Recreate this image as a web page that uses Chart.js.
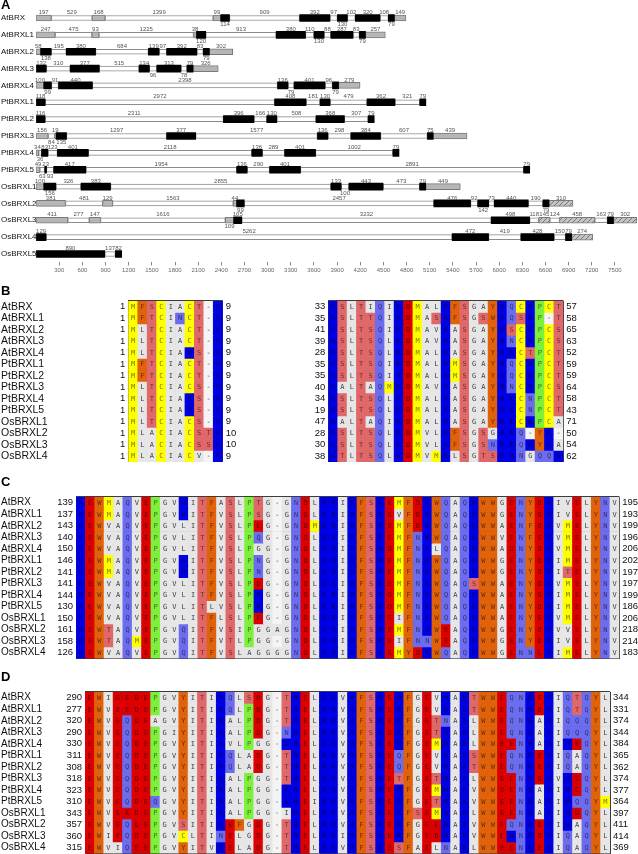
<!DOCTYPE html>
<html>
<head>
<meta charset="utf-8">
<script src="https://cdn.jsdelivr.net/npm/chart.js@4.4.1/dist/chart.umd.min.js"></script>
<style>
  body { margin: 0; background: #fff; width: 638px; height: 854px; overflow: hidden; position: relative; }
  canvas { position: absolute; left: 0; }
</style>
</head>
<body>
<canvas id="geneChart" width="638" height="278" style="top:0px"></canvas>
<canvas id="bLeft" width="638" height="190" style="top:280px"></canvas>
<canvas id="bRight" width="638" height="190" style="top:280px"></canvas>
<canvas id="cChart" width="638" height="190" style="top:470px"></canvas>
<canvas id="dChart" width="638" height="194" style="top:660px"></canvas>
<script>
// ==========================================
// 1. PANEL A - gene structures
// ==========================================
const geneNames = ['AtBRX', 'AtBRXL1', 'AtBRXL2', 'AtBRXL3', 'AtBRXL4', 'PtBRXL1', 'PtBRXL2', 'PtBRXL3',
    'PtBRXL4', 'PtBRXL5', 'OsBRXL1', 'OsBRXL2', 'OsBRXL3', 'OsBRXL4', 'OsBRXL5'];

// E = exon, U = UTR, H = hatched UTR, I = intron ; lower case = number written under the box
const segTypes = [
    'UIUIUeIEIeIEIeU',
    'UIUIUeIEIeIEIeU',
    'UeIEIEIEIeU',
    'EIEIEiEiEU',
    'UeIEIEiEIeU',
    'EIEIEIEIE',
    'EIEIEIEIE',
    'UiUeIEIEIEIEU',
    'UiEIEIEIEIE',
    'UiEiEIEIEIE',
    'UeIEIEiEIEU',
    'UIUIUeIEIeIEIeH',
    'UIUIuEIEIHIHIEH',
    'EIEIEIEH',
    'EIE'
];
const segLengths = [
    [197, 529, 168, 1399, 99, 114, 909, 392, 97, 130, 102, 320, 108, 79, 149],
    [247, 475, 93, 1225, 38, 120, 913, 380, 110, 130, 88, 287, 83, 79, 257],
    [58, 138, 195, 380, 684, 139, 97, 392, 83, 79, 302],
    [132, 310, 377, 515, 134, 96, 313, 78, 79, 326],
    [100, 99, 91, 440, 2398, 136, 79, 401, 96, 79, 279],
    [118, 2972, 408, 181, 130, 479, 362, 321, 79],
    [116, 2311, 396, 166, 130, 508, 368, 307, 79],
    [156, 84, 19, 135, 1297, 377, 1577, 136, 298, 384, 607, 75, 439],
    [34, 36, 83, 123, 401, 2118, 136, 289, 401, 1002, 79],
    [49, 63, 23, 93, 417, 1954, 136, 290, 401, 2891, 79],
    [100, 156, 326, 383, 2855, 133, 100, 443, 473, 79, 449],
    [381, 481, 129, 1563, 44, 99, 2457, 476, 92, 142, 73, 440, 190, 79, 310],
    [411, 277, 147, 1616, 109, 105, 3232, 498, 118, 145, 124, 458, 163, 79, 302],
    [129, 5262, 472, 419, 428, 150, 79, 274],
    [890, 137, 82]
];
const axisTicks = [300, 600, 900, 1200, 1500, 1800, 2100, 2400, 2700, 3000, 3300, 3600, 3900, 4200,
    4500, 4800, 5100, 5400, 5700, 6000, 6300, 6600, 6900, 7200, 7500];

// ==========================================
// 2. PANELS B, C, D - alignments
// ==========================================
const alignNames = ['AtBRX', 'AtBRXL1', 'AtBRXL2', 'AtBRXL3', 'AtBRXL4', 'PtBRXL1', 'PtBRXL2', 'PtBRXL3',
    'PtBRXL4', 'PtBRXL5', 'OsBRXL1', 'OsBRXL2', 'OsBRXL3', 'OsBRXL4'];

const bLeftStart = [1, 1, 1, 1, 1, 1, 1, 1, 1, 1, 1, 1, 1, 1];
const bLeftEnd = [9, 9, 9, 9, 9, 9, 9, 9, 9, 9, 9, 10, 10, 9];
const bLeftSeq = [
    'MFSCIACT-K', 'MFTCINCT-K', 'MLTCIACT-K', 'MLTCIACT-K', 'MLTCIARS-K', 'MFTCIACT-K', 'MFTCIACT-K',
    'MLTCIACS-K', 'MLTCIARS-K', 'MLTCIARS-K', 'MLTCIACS-K', 'MLACIACSTK', 'MLACIACSSK', 'MLACIACV-K'
];

const bRightStart = [33, 35, 41, 39, 28, 35, 35, 40, 34, 19, 47, 28, 30, 38];
const bRightEnd = [57, 58, 65, 63, 52, 59, 59, 64, 58, 43, 71, 50, 54, 62];
const bRightSeq = [
    'KSLTIQIKDMALKFSGAYKQCKPCT',
    'KSLTTQIKDMASKFSGSWKQSKP-T',
    'KSLTSQIKDMAVKASGAYKSCKPCS',
    'KSLTSQLKDMAVKASGAYKNCKPCS',
    'KSLTSQLKDMALKASGAYRKCTPCT',
    'KSLTSQIKDMALKMSGAYKQCKPCT',
    'KSLTSQIKDMALKMSGAYKQCKPCT',
    'KALTAQMKDMAVKASGAYRNCKPCS',
    'KSLTSQLKDMALKASGAYRKCNPCT',
    'KSLTSQLKDMALKASGAYRKCNPCT',
    'KALTAQIKDMALKASGAYRKCKPCA',
    'KSLTSQLKDMVLKFSGSGRKQ-YK-',
    'KSLTSQLKDMVLKFSGSNKKQHYKA',
    'KTLTSQLKDMVMKLSGTSRHNGQQR'
];

const cStart = [139, 137, 143, 140, 150, 146, 141, 141, 144, 130, 150, 161, 158, 126];
const cEnd = [195, 193, 199, 196, 206, 202, 197, 197, 199, 186, 206, 218, 214, 183];
const cSeq = [
    'KEWMAQVEPGVHITFASLPTG-GNDLK' + 'RIRFSREMFDKWQAQRWWGENYDKIVELYNV',
    'KEWMAQVEPGVHITFVSLPSG-GNDLK' + 'RIRFSREVFDKWQAQRWWGENYDRIVELYNV',
    'KEWVAQVEPGVLITFVSLPEG-GNDMK' + 'RIRFSREMFDKWQAQKWWAENFDKVMELYNV',
    'KEWVAQVEPGVLITFVSLPQG-GNDLK' + 'RIRFSREMFNKWQAQKWWVENFEKVMELYNV',
    'KEWVAQVEPGVLITFVSLPGG-GNDLK' + 'RIRFSRDMFNKLQAQRWWADNYDKVMELYNV',
    'KEWMAQVEPGVHITFVSLPNG-GNDLK' + 'RIRFSREMFNKWQAQRWWGENYDRIMELYNV',
    'KEWMAQVEPGVHITFVSLPNG-GNDLK' + 'RIRFSREMFNKWQAQRWWGENYDRITELYNV',
    'KEWVAQVEPGVLITFVSLPDG-GNDLK' + 'RIRFSREMFNKWQAQSWWAENYDKVMELYNV',
    'KEWVAQVEPGVLITFVSLPRG-GNDLK' + 'RIRFSRDMFNKWQAQRWWAENYDRIMELYNV',
    'KEWVAQVEPGVLITLVSLPRG-GNDLK' + 'RIRFSRDMFNKWQAQRWWAENYDRIMELYNV',
    'KEWVAQVEPGVLITFLSLPEG-GNDLK' + 'RIRFSREIFNKWQAQRWWAENYEKVMELYNV',
    'REWTAQVEPGVQITFVSIPGGAGNDLK' + 'RIRFSREMFNKWEAQRWWGENYDRVVELYNV',
    'REWTAQMEPGVQITFVTLPGG-GNDLK' + 'RIRFSREIFNNWEAQRWWGENYDRIVELYNV',
    'REWVAQVEPGVQITFVSLAGGGGNDLK' + 'RIRFSREMYDKWQAQKWWGENNERIMELYNV'
];

const dStart = [290, 277, 320, 290, 330, 311, 308, 318, 323, 310, 343, 357, 360, 315];
const dEnd = [344, 331, 374, 344, 384, 365, 362, 374, 377, 364, 397, 411, 414, 369];
const dSeq = [
    'EWIEEDEPGVYITIRQLSDG-TRELR' + 'RVRFSRERFGEVHAKTWWEQNRERIQTQYL',
    'EWVEEDEPGVYITIRQLPDG-TRELR' + 'RVRFSRERFGEVHAKTWWEQNRDRIQTQYL',
    'EWVEQDEAGVYITIRALPDG-TRELR' + 'RVRFSREKFGETNARLWWEQNRARIQQQYL',
    'EWVEQDEPGIYITIRALPDG-NRELR' + 'RVRFSRDKFGETHARLWWEQNRARIQQQYL',
    'EWVEQDEPGVYITIKVLPGG-KRELR' + 'RVRFSRERFGEMHARLWWEENRARIHEQYL',
    'EWVEQDEPGVYITIRQLADG-TRELR' + 'RVRFSREQFGEVHAKSWWEQNRERIQAQYL',
    'EWVEQDEPGVYITIRQLADG-TRELR' + 'RVRFSREQFGEVHAKTWWEQNRERIQAQYL',
    'EWVEQDEPGVYITIRALPGG-TRELR' + 'RVRFSRETFGETRARLWWEENRDRVHEQYL',
    'EWVEQDEPGVYITIRALPGG-KRELR' + 'RVRFSRERFGEMHARVWWEENRARIHEQYL',
    'EWVEQDEQGVYITIRALPGG-KREIR' + 'RVRFSRERFGETHAKVWWEENRARIHQQYM',
    'EWVEEDEPGVYITIRALPGG-IRELR' + 'RVRFSREKFSEMHARLWWEENRARIHDQYL',
    'EWVEQDEPGVSITIREFGDG-TRELR' + 'RVRFSRERFGEERAKVWWEQNRDRIHAQYL',
    'EWIEQDEPGVCLTINELGDG-TRELR' + 'RIRFSHERFGEDRAKVWWEHNRDRIQAQYL',
    'EWVIQDEPGVYITVRELADG-TRELR' + 'RVRFSRESFAELNAKLWWEENKERIQAQYL'
];

// residue colours
const residueColors = {
    K: '#0000e4', R: '#0000e4', H: '#0000e4',
    D: '#dc0000', E: '#dc0000',
    F: '#e0620a', W: '#e0620a', Y: '#e0620a',
    M: '#ffff00', C: '#ffff00',
    P: '#7ef03c',
    S: '#e06868', T: '#e06868',
    N: '#6c6cf0', Q: '#6c6cf0'
};
const plainColor = '#e6e6e6';
const gapColor = '#f4f4f4';
const labelFont = '"Liberation Sans", Arial, Helvetica, sans-serif';

// ==========================================
// 3. PANEL A CHART
// ==========================================
function hatchPattern() {
    const c = document.createElement('canvas');
    c.width = 5; c.height = 5;
    const g = c.getContext('2d');
    g.fillStyle = '#c4c4c4';
    g.fillRect(0, 0, 5, 5);
    g.strokeStyle = '#777';
    g.lineWidth = 1;
    g.beginPath();
    g.moveTo(0, 5); g.lineTo(5, 0);
    g.stroke();
    return g.createPattern(c, 'repeat');
}

const segData = { E: [], U: [], H: [], I: [] };
geneNames.forEach((name, g) => {
    let pos = 0;
    segLengths[g].forEach((len, s) => {
        const t = segTypes[g][s].toUpperCase();
        segData[t].push({ x: [pos, pos + len], y: name });
        pos += len;
    });
});

const geneLabels = {
    id: 'geneLabels',
    afterDatasetsDraw(chart) {
        const { ctx, scales: { x, y } } = chart;
        ctx.save();
        ctx.textBaseline = 'middle';
        ctx.textAlign = 'center';
        ctx.font = '6px ' + labelFont;
        ctx.fillStyle = '#555';
        geneNames.forEach((name, g) => {
            const yc = y.getPixelForValue(g);
            let pos = 0;
            segLengths[g].forEach((len, s) => {
                const t = segTypes[g][s];
                const below = t !== t.toUpperCase();
                ctx.fillText(String(len), x.getPixelForValue(pos + len / 2), below ? yc + 6.5 : yc - 5.5);
                pos += len;
            });
        });
        ctx.textAlign = 'left';
        ctx.font = '8px ' + labelFont;
        ctx.fillStyle = '#111';
        geneNames.forEach((name, g) => ctx.fillText(name, 1, y.getPixelForValue(g)));
        ctx.textBaseline = 'alphabetic';
        ctx.font = 'bold 13px ' + labelFont;
        ctx.fillStyle = '#000';
        ctx.fillText('A', 1, 9);
        ctx.restore();
    }
};

new Chart(document.getElementById('geneChart'), {
    type: 'bar',
    data: {
        labels: geneNames,
        datasets: [
            { data: segData.E, backgroundColor: '#000', borderWidth: 0, barThickness: 7 },
            { data: segData.U, backgroundColor: '#b6b6b6', borderColor: '#7a7a7a', borderWidth: 1, borderSkipped: false, barThickness: 6 },
            { data: segData.H, backgroundColor: hatchPattern(), borderColor: '#7a7a7a', borderWidth: 1, borderSkipped: false, barThickness: 6 },
            { data: segData.I, backgroundColor: '#fff', borderColor: '#8c8c8c', borderWidth: 1, borderSkipped: false, barThickness: 5 }
        ]
    },
    options: {
        indexAxis: 'y',
        responsive: false,
        animation: false,
        events: [],
        layout: { padding: { left: 36.1, right: 0.7, top: 9.57, bottom: 1.57 } },
        datasets: { bar: { grouped: false } },
        plugins: { legend: { display: false }, tooltip: { enabled: false } },
        scales: {
            x: {
                type: 'linear', min: 0, max: 7790,
                afterBuildTicks: s => { s.ticks = axisTicks.map(v => ({ value: v })); },
                afterFit: s => { s.height = 14; },
                border: { display: false },
                grid: { drawOnChartArea: false, drawTicks: true, tickLength: 3, color: '#888' },
                ticks: {
                    autoSkip: false, maxRotation: 0, padding: 1, color: '#666',
                    font: { size: 6, family: labelFont },
                    callback: v => String(v)
                }
            },
            y: { display: false }
        }
    },
    plugins: [geneLabels]
});

// ==========================================
// 4. ALIGNMENT CHARTS
// ==========================================
const residueLetters = {
    id: 'residueLetters',
    afterDatasetsDraw(chart) {
        const ctx = chart.ctx;
        ctx.save();
        ctx.font = '7px "DejaVu Sans Mono", monospace';
        ctx.textAlign = 'center';
        ctx.textBaseline = 'middle';
        chart.data.datasets.forEach((ds, r) => {
            chart.getDatasetMeta(r).data.forEach((bar, c) => {
                const ch = ds.seq[c];
                ctx.fillStyle = residueColors[ch] ? 'rgba(0,0,0,0.55)' : '#404040';
                ctx.fillText(ch, bar.x, (bar.y + bar.base) / 2 + 0.5);
            });
        });
        ctx.restore();
    }
};

function rowLabels(cfg) {
    return {
        id: 'rowLabels',
        afterDraw(chart) {
            const { ctx, chartArea, scales: { y } } = chart;
            ctx.save();
            ctx.textBaseline = 'middle';
            cfg.start.forEach((v, r) => {
                const yc = y.getPixelForValue(r + 0.5);
                if (cfg.names) {
                    ctx.textAlign = 'left';
                    ctx.font = cfg.nameSize + 'px ' + labelFont;
                    ctx.fillStyle = '#111';
                    ctx.fillText(alignNames[r], 1, yc);
                }
                ctx.font = '9.5px ' + labelFont;
                ctx.fillStyle = '#111';
                ctx.textAlign = 'right';
                ctx.fillText(String(v), chartArea.left - 3, yc);
                ctx.textAlign = 'left';
                ctx.fillText(String(cfg.end[r]), chartArea.right + 3, yc);
            });
            if (cfg.letter) {
                ctx.textBaseline = 'alphabetic';
                ctx.textAlign = 'left';
                ctx.font = 'bold 13px ' + labelFont;
                ctx.fillStyle = '#000';
                ctx.fillText(cfg.letter, 1, cfg.letterY);
            }
            ctx.restore();
        }
    };
}

function alignmentChart(id, seqs, cfg) {
    const canvas = document.getElementById(id);
    const nCols = seqs[0].length;
    const datasets = seqs.map((seq, r) => ({
        label: alignNames[r],
        seq: seq,
        data: seq.split('').map(() => 1),
        backgroundColor: seq.split('').map(ch => residueColors[ch] || (ch === '-' ? gapColor : plainColor)),
        borderWidth: 0
    }));
    return new Chart(canvas, {
        type: 'bar',
        data: { labels: Array.from({ length: nCols }, (_, i) => i + 1), datasets },
        options: {
            responsive: false,
            animation: false,
            events: [],
            layout: {
                padding: {
                    left: cfg.left, right: canvas.width - cfg.right,
                    top: cfg.top, bottom: canvas.height - cfg.bottom
                }
            },
            datasets: { bar: { barPercentage: 1, categoryPercentage: 1 } },
            plugins: { legend: { display: false }, tooltip: { enabled: false } },
            scales: {
                x: {
                    stacked: true, z: 1,
                    afterFit: s => { s.height = 0; },
                    grid: { offset: true, color: '#3c3c3c', drawTicks: false },
                    border: { color: '#3c3c3c' },
                    ticks: { display: false }
                },
                y: {
                    stacked: true, reverse: true, min: 0, max: seqs.length, z: 1,
                    afterFit: s => { s.width = 0; },
                    grid: { color: '#3c3c3c', drawTicks: false },
                    border: { color: '#3c3c3c' },
                    ticks: { display: false, stepSize: 1 }
                }
            }
        },
        plugins: [residueLetters, rowLabels(cfg)]
    });
}

alignmentChart('bLeft', bLeftSeq, {
    left: 128.3, right: 222.7, top: 20.9, bottom: 181.9,
    start: bLeftStart, end: bLeftEnd, names: true, nameSize: 10.5, letter: 'B', letterY: 15
});
alignmentChart('bRight', bRightSeq, {
    left: 328.3, right: 563.3, top: 20.9, bottom: 181.9,
    start: bRightStart, end: bRightEnd, names: false
});
alignmentChart('cChart', cSeq, {
    left: 76, right: 619.3, top: 26.9, bottom: 188.5,
    start: cStart, end: cEnd, names: true, nameSize: 10, letter: 'C', letterY: 16
});
alignmentChart('dChart', dSeq, {
    left: 85, right: 610, top: 31.9, bottom: 193.5,
    start: dStart, end: dEnd, names: true, nameSize: 10, letter: 'D', letterY: 21
});
</script>
</body>
</html>
